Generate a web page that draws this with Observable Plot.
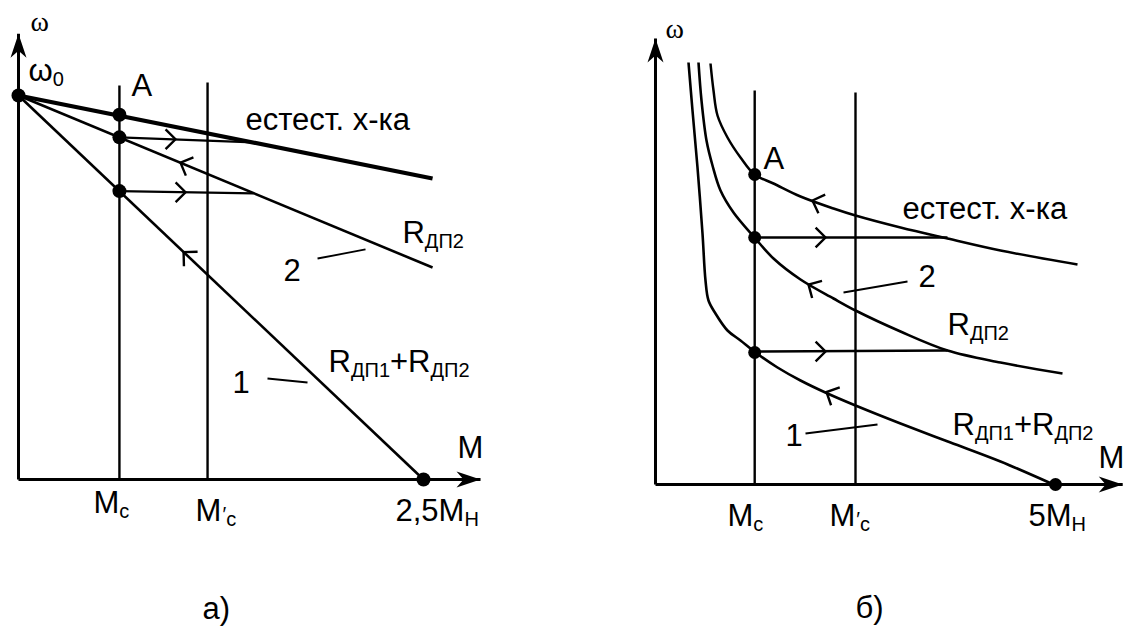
<!DOCTYPE html>
<html><head><meta charset="utf-8">
<script src="https://cdn.jsdelivr.net/npm/d3@7"></script>
<script src="https://cdn.jsdelivr.net/npm/@observablehq/plot@0.6"></script>
<style>
html,body{margin:0;padding:0;background:#fff;}
#wrap{display:flex;width:1128px;height:626px;overflow:hidden;background:#fff;}
#wrap svg{display:block;flex:none;}
</style></head><body><div id="wrap"></div>
<script>
// ================= Panel а) : linear characteristics (M, ω/ω0) =================
const aAxisY = [[0, 0], [0, 1.161]];
const aAxisX = [[0, 0], [2.852, 0]];
const aMcLine = [[0.623, 0], [0.623, 1.026]];
const aMc1Line = [[1.167, 0], [1.167, 1.034]];
const aNatural = [[0, 1], [2.556, 0.784]];
const aR2 = [[0, 1], [2.556, 0.552]];
const aR12 = [[0, 1], [2.5, 0]];
const aJump1 = [[0.623, 0.891], [1.451, 0.878]];
const aJump2 = [[0.623, 0.751], [1.451, 0.745]];
const aDots = [[0, 1], [0.623, 0.95], [0.623, 0.891], [0.623, 0.751], [2.5, 0]];
// [M, ω, pointing direction in degrees]
const aChevrons = [[0.969, 0.886, 0], [1.031, 0.748, 0], [1.0, 0.825, 202.5], [1.019, 0.592, 223.5]];
const aLeaders = [[[1.846, 0.5755], [2.142, 0.599]], [[1.537, 0.263], [1.784, 0.2526]]];
const aLabels = [
  {M: 0.062, w: 1.039, t: "ω_{0}"},
  {M: 0.698, w: 1.0, t: "A"},
  {M: 1.401, w: 0.911, t: "естест. х-ка"},
  {M: 2.370, w: 0.615, t: "R_{ДП2}"},
  {M: 1.636, w: 0.518, t: "2"},
  {M: 1.914, w: 0.279, t: "R_{ДП1}+R_{ДП2}"},
  {M: 1.321, w: 0.224, t: "1"},
  {M: 2.710, w: 0.057, t: "M"},
  {M: 0.463, w: -0.086, t: "M_{с}"},
  {M: 1.093, w: -0.107, t: "M^{′}_{с}"},
  {M: 2.327, w: -0.107, t: "2,5M_{Н}"},
  {M: 1.136, w: -0.362, t: "а)"}
];
const aOmega = [{M: 0.074, w: 1.169, t: "ω"}];

// ================= Panel б) : hyperbolic characteristics =================
const bAxisY = [[0, 0], [0, 4.46]];
const bAxisX = [[0, 0], [5.84, 0]];
const bMcLine = [[1.24, 0], [1.24, 3.94]];
const bMc1Line = [[2.5, 0], [2.5, 3.92]];
const bNatural = [[0.6875,4.21],[0.725,3.94],[0.775,3.69],[0.9,3.47],[1.0625,3.27],[1.2375,3.10],[1.475,3.01],[1.8125,2.88],[2.225,2.76],[2.5,2.69],[3.0625,2.57],[3.65,2.46],[4.3125,2.34],[5.275,2.20]];
const bR2 = [[0.5375,4.22],[0.575,3.84],[0.6375,3.44],[0.7125,3.19],[0.8125,2.94],[0.975,2.72],[1.2375,2.47],[1.475,2.26],[1.8125,2.05],[2.225,1.86],[2.5,1.74],[3.0625,1.53],[3.65,1.34],[4.3125,1.22],[5.0875,1.11]];
const bR12 = [[0.4125,4.22],[0.4625,3.74],[0.525,3.17],[0.5875,2.51],[0.625,2.04],[0.6625,1.84],[0.75,1.71],[0.9,1.54],[1.0625,1.44],[1.25,1.32],[1.525,1.17],[1.8125,1.04],[2.15,0.91],[2.5,0.79],[3.0625,0.61],[3.6875,0.42],[4.3125,0.23],[4.975,0.0]];
const bJump1 = [[1.24, 2.47], [3.65, 2.47]];
const bJump2 = [[1.24, 1.33], [3.65, 1.34]];
const bDots = [[1.24, 3.10], [1.24, 2.47], [1.24, 1.32], [5.0, 0]];
const bChevrons = [[1.9625, 2.84, 200], [2.125, 2.47, 0], [1.9125, 2.0, 210], [2.125, 1.33, 0], [2.1375, 0.925, 206]];
const bLeaders = [[[2.35, 1.92], [3.15, 2.03]], [[1.875, 0.51], [2.775, 0.60]]];
const bLabels = [
  {M: 1.35, w: 3.16, t: "A"},
  {M: 3.0875, w: 2.66, t: "естест. х-ка"},
  {M: 3.2875, w: 1.98, t: "2"},
  {M: 3.65, w: 1.50, t: "R_{ДП2}"},
  {M: 3.7125, w: 0.50, t: "R_{ДП1}+R_{ДП2}"},
  {M: 1.625, w: 0.39, t: "1"},
  {M: 5.5375, w: 0.17, t: "M"},
  {M: 0.9, w: -0.41, t: "M_{с}"},
  {M: 2.175, w: -0.41, t: "M^{′}_{с}"},
  {M: 4.6625, w: -0.41, t: "5M_{Н}"},
  {M: 2.5, w: -1.33, t: "б)"}
];
const bOmega = [{M: 0.125, w: 4.47, t: "ω"}];

// ================= helpers =================
const SANS = "Liberation Sans, Arial, Helvetica, sans-serif";
const SERIF = "Liberation Serif, Times New Roman, serif";
const FS = 31, SUB = 20, SUBSHIFT = 5;

const arrowUp = {draw(c) { c.moveTo(0, 0); c.lineTo(-8, 24); c.lineTo(0, 17); c.lineTo(8, 24); c.closePath(); }};
const arrowRight = {draw(c) { c.moveTo(0, 0); c.lineTo(-24, -8); c.lineTo(-17, 0); c.lineTo(-24, 8); c.closePath(); }};
function chevron(deg, L) {
  const a = deg * Math.PI / 180, a1 = a + 3 * Math.PI / 4, a2 = a - 3 * Math.PI / 4;
  return {draw(c) { c.moveTo(L * Math.cos(a1), L * Math.sin(a1)); c.lineTo(0, 0); c.lineTo(L * Math.cos(a2), L * Math.sin(a2)); }};
}
const X = d => d[0], Y = d => d[1];
const ln = (pts, sw, curve = "linear") => Plot.line(pts, {x: X, y: Y, stroke: "black", strokeWidth: sw, curve, strokeLinecap: "butt", strokeLinejoin: "round"});

function panelMarks(P) {
  return [
    ln(P.axisY, 3), ln(P.axisX, 3.2),
    Plot.dot([P.axisY[1]], {x: X, y: Y, symbol: arrowUp, fill: "black", stroke: "none"}),
    Plot.dot([P.axisX[1]], {x: X, y: Y, symbol: arrowRight, fill: "black", stroke: "none"}),
    ln(P.mc, 2.4), ln(P.mc1, 2.4),
    ln(P.natural, P.natW, P.curve), ln(P.r2, 2.6, P.curve), ln(P.r12, 2.6, P.curve),
    ln(P.jump1, 2.4), ln(P.jump2, 2.4),
    ...P.leaders.map(l => ln(l, 1.8)),
    ...P.chevrons.map(c => Plot.dot([c], {x: X, y: Y, symbol: chevron(c[2], 14), fill: "none", stroke: "black", strokeWidth: 2.4})),
    Plot.dot(P.dots, {x: X, y: Y, r: P.dotR, fill: "black", stroke: "none"}),
    Plot.text(P.labels, {x: "M", y: "w", text: "t", textAnchor: "start", lineAnchor: "bottom", fontSize: FS, fontFamily: SANS, fill: "black"}),
    Plot.text(P.omega, {x: "M", y: "w", text: "t", textAnchor: "start", lineAnchor: "bottom", fontSize: 28, fontFamily: SERIF, fill: "black"})
  ];
}

function richText(svg) {
  const NS = "http://www.w3.org/2000/svg";
  svg.querySelectorAll("text").forEach(t => {
    const s = t.textContent;
    if (!/[_^]\{/.test(s)) return;
    const parts = s.split(/([_^]\{[^}]*\})/).filter(p => p !== "");
    t.textContent = "";
    let shift = 0;
    for (const p of parts) {
      const ts = document.createElementNS(NS, "tspan");
      if (p.startsWith("_{")) {
        ts.textContent = p.slice(2, -1);
        ts.setAttribute("font-size", SUB);
        ts.setAttribute("dy", SUBSHIFT - shift); shift = SUBSHIFT;
      } else if (p.startsWith("^{")) {
        ts.textContent = p.slice(2, -1);
        ts.setAttribute("font-size", 20);
        ts.setAttribute("dx", 1);
        if (shift) ts.setAttribute("dy", -shift); shift = 0;
      } else {
        ts.textContent = p;
        if (shift) ts.setAttribute("dy", -shift); shift = 0;
      }
      t.appendChild(ts);
    }
  });
}

const common = {width: 564, height: 626, marginTop: 0, marginRight: 0, marginBottom: 0, marginLeft: 0,
  style: {background: "white", overflow: "visible", fontFamily: SANS, color: "black"}};

const plotA = Plot.plot({
  ...common,
  x: {domain: [0, 2.5], range: [18, 423], axis: null},
  y: {domain: [0, 1], range: [479, 95], axis: null},
  marks: panelMarks({axisY: aAxisY, axisX: aAxisX, mc: aMcLine, mc1: aMc1Line, natural: aNatural, natW: 4.2, r2: aR2, r12: aR12,
    curve: "linear", jump1: aJump1, jump2: aJump2, leaders: aLeaders, chevrons: aChevrons, dots: aDots, dotR: 7, labels: aLabels, omega: aOmega})
});

const plotB = Plot.plot({
  ...common,
  x: {domain: [0, 5], range: [91, 491], axis: null},
  y: {domain: [0, 4], range: [484, 84], axis: null},
  marks: panelMarks({axisY: bAxisY, axisX: bAxisX, mc: bMcLine, mc1: bMc1Line, natural: bNatural, natW: 2.5, r2: bR2, r12: bR12,
    curve: "catmull-rom", jump1: bJump1, jump2: bJump2, leaders: bLeaders, chevrons: bChevrons, dots: bDots, dotR: 6.5, labels: bLabels, omega: bOmega})
});

richText(plotA); richText(plotB);
document.getElementById("wrap").append(plotA, plotB);
</script></body></html>
